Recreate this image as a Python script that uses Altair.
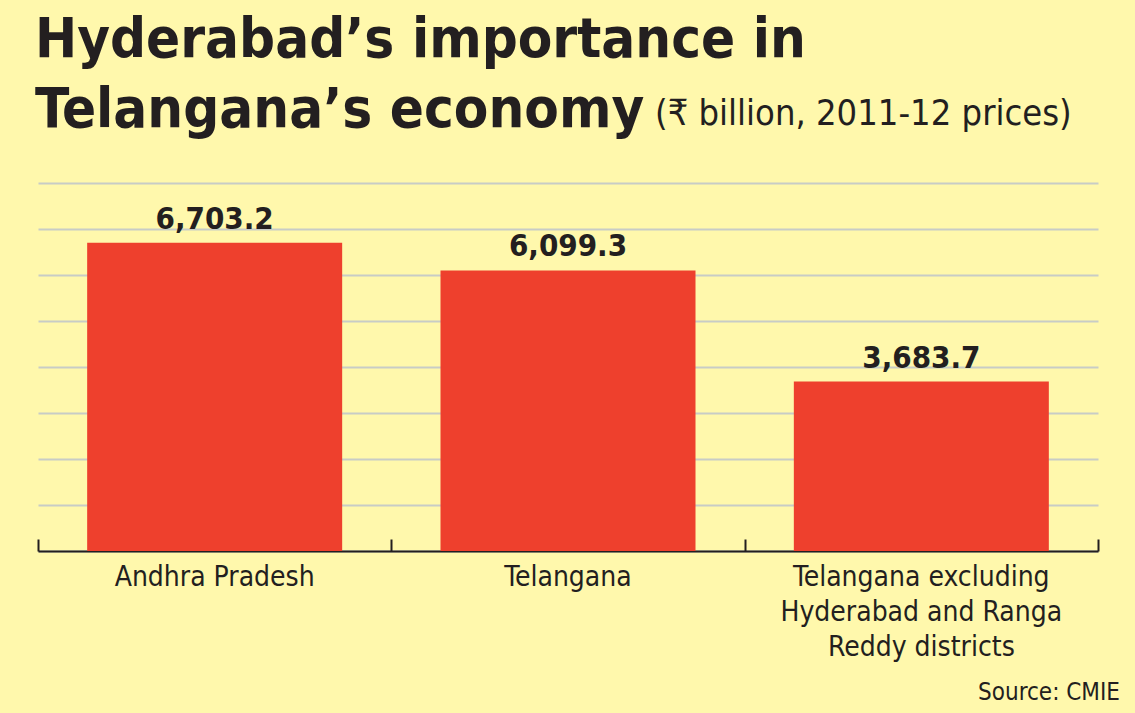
import altair as alt
import pandas as pd

categories = ["Andhra Pradesh", "Telangana", "Telangana excluding Hyderabad and Ranga Reddy districts"]
values = [6703.2, 6099.3, 3683.7]
label_lines = {
    "Telangana excluding Hyderabad and Ranga Reddy districts": ["Telangana excluding", "Hyderabad and Ranga", "Reddy districts"],
}
grid_values = [0, 1000, 2000, 3000, 4000, 5000, 6000, 7000, 8000]
title_line1 = "Hyderabad\u2019s importance in"
title_line2 = "Telangana\u2019s economy"
unit_text = "(\u20b9 billion, 2011-12 prices)"
source_text = "Source: CMIE"

FONT = "Liberation Sans Narrow, DejaVu Sans Condensed, Roboto Condensed, Arial Narrow, sans-serif"
RED = "#EE402D"
BG = "#FFF8AC"
INK = "#231F20"

W, H = 1060, 368

df = pd.DataFrame({"cat": categories, "val": values})

expr = "datum.label"
for k, lines in label_lines.items():
    arr = "[" + ",".join("'" + l + "'" for l in lines) + "]"
    expr = f"datum.label == '{k}' ? {arr} : " + expr

xscale = alt.Scale(paddingInner=0, paddingOuter=0)
yscale = alt.Scale(domain=[0, 8000], nice=False)

bars = alt.Chart(df).mark_bar(color=RED, size=255).encode(
    x=alt.X("cat:N", sort=categories, scale=xscale, title=None,
            axis=alt.Axis(orient="bottom", ticks=False, domain=True, domainColor=INK,
                          domainWidth=2, labelFontSize=28, labelFont=FONT, labelColor=INK,
                          labelPadding=12, labelBaseline="top", labelLineHeight=35,
                          labelLimit=0, labelAngle=0, labelExpr=expr, grid=False)),
    y=alt.Y("val:Q", scale=yscale, title=None,
            axis=alt.Axis(values=grid_values, grid=True, gridColor="#C8CCC6", gridWidth=2,
                          labels=False, ticks=False, domain=False)),
)

labels = alt.Chart(df).mark_text(
    font=FONT, fontSize=31, fontWeight="bold", color=INK, baseline="alphabetic", dy=-14
).encode(
    x=alt.X("cat:N", sort=categories, scale=xscale, title=None,
            axis=alt.Axis(orient="top", offset=-H, labels=False, domain=False, ticks=True,
                          tickSize=12, tickWidth=2, tickColor=INK, tickBand="extent", grid=False)),
    y=alt.Y("val:Q", scale=yscale, title=None),
    text=alt.Text("val:Q", format=",.1f"),
)


def text_layer(txt, size, x, y, weight="normal", align="left"):
    return alt.Chart(pd.DataFrame({"t": [txt]})).mark_text(
        font=FONT, fontSize=size, fontWeight=weight, color=INK, align=align,
        baseline="alphabetic"
    ).encode(text="t:N", x=alt.value(x), y=alt.value(y))


t1 = text_layer(title_line1, 56, -3, -126, weight="bold")
t2 = text_layer(title_line2, 56, -3, -56, weight="bold")
unit = text_layer(unit_text, 36, 617, -58)
source = text_layer(source_text, 24, 1082, 517, align="right")

chart = alt.layer(bars, labels, t1, t2, unit, source).resolve_axis(x="independent").properties(
    width=W, height=H,
    autosize=alt.AutoSizeParams(type="none"),
    padding={"left": 38, "top": 183, "right": 37, "bottom": 162},
    background=BG,
).configure_view(stroke=None)

chart.save("out.html", embed_options={"renderer": "svg", "actions": False})
